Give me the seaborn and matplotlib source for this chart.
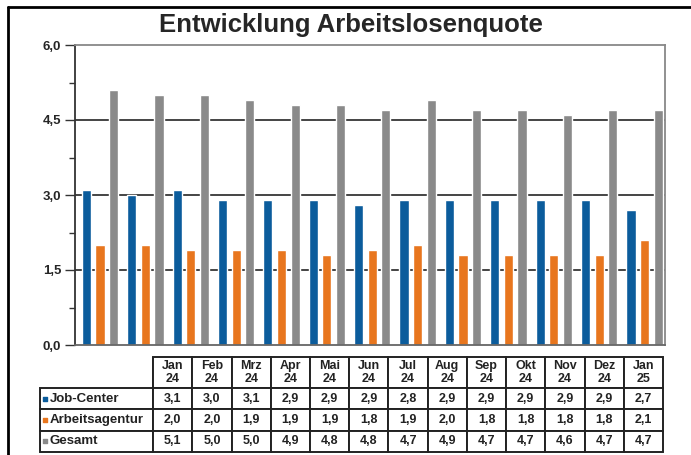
import numpy as np
import pandas as pd
import matplotlib
matplotlib.use("Agg")
import matplotlib.pyplot as plt
import seaborn as sns
from matplotlib.lines import Line2D

months = ["Jan\n24", "Feb\n24", "Mrz\n24", "Apr\n24", "Mai\n24", "Jun\n24", "Jul\n24",
          "Aug\n24", "Sep\n24", "Okt\n24", "Nov\n24", "Dez\n24", "Jan\n25"]
job_center = [3.1, 3.0, 3.1, 2.9, 2.9, 2.9, 2.8, 2.9, 2.9, 2.9, 2.9, 2.9, 2.7]
arbeitsagentur = [2.0, 2.0, 1.9, 1.9, 1.9, 1.8, 1.9, 2.0, 1.8, 1.8, 1.8, 1.8, 2.1]
gesamt = [5.1, 5.0, 5.0, 4.9, 4.8, 4.8, 4.7, 4.9, 4.7, 4.7, 4.6, 4.7, 4.7]
series = ["Job-Center", "Arbeitsagentur", "Gesamt"]
colors = ["#0b5c9c", "#e8761e", "#8a8a8a"]
yticks = [0, 1.5, 3.0, 4.5, 6.0]
ytick_labels = ["0,0", "1,5", "3,0", "4,5", "6,0"]

df = pd.DataFrame({
    "Monat": months * 3,
    "Reihe": np.repeat(series, len(months)),
    "Quote": job_center + arbeitsagentur + gesamt,
})

sns.set_style("white")
plt.rcParams["font.family"] = ["Liberation Sans", "DejaVu Sans"]

W, H = 691, 455
fig = plt.figure(figsize=(W / 100, H / 100), dpi=100)

# --- bar chart ---
ax = fig.add_axes([75 / W, 1 - 345 / H, 590 / W, 300 / H])
sns.barplot(data=df, x="Monat", y="Quote", hue="Reihe", palette=colors,
            width=0.9, gap=0.33, saturation=1, legend=False, ax=ax, zorder=2)
ax.set_xlim(-0.55, 12.45)
ax.set_ylim(0, 6)
ax.set_xticks([])
ax.set_xlabel("")
ax.set_ylabel("")
ax.set_yticks(yticks)
ax.set_yticklabels(ytick_labels, fontsize=9.5, fontweight="bold")
ax.set_yticks([0.75, 2.25, 3.75, 5.25], minor=True)
ax.tick_params(axis="y", which="major", left=True, length=7, width=1, color="#333", pad=3)
ax.tick_params(axis="y", which="minor", left=True, length=4, width=1, color="#333")
for y in [1.5, 3.0, 4.5]:
    ax.axhline(y, color="#444", lw=1.4, zorder=1)
ax.spines["left"].set_color("#333")
ax.spines["bottom"].set_color("#666")
ax.spines["top"].set_color("#888")
ax.spines["right"].set_color("#888")
for s in ax.spines.values():
    s.set_linewidth(1.3)

# --- title ---
fig.text(351 / W, 1 - 25 / H, "Entwicklung Arbeitslosenquote",
         ha="center", va="center", fontsize=18.5, fontweight="bold")

# --- data table: label column x=40..153 px, grid 153..663 px ---
ax_t = fig.add_axes([40 / W, 1 - 452 / H, 623 / W, 95 / H])
ax_t.axis("off")
header = [""] + months
body = [[name] + [f"{v:.1f}".replace(".", ",") for v in row]
        for name, row in zip(series, (job_center, arbeitsagentur, gesamt))]
tbl = ax_t.table(cellText=body, colLabels=header, cellLoc="center",
                 colLoc="center", bbox=[0, 0, 1, 1])
tbl.auto_set_font_size(False)
tbl.set_fontsize(9)
for (r, c), cell in tbl.get_celld().items():
    cell.set_width(113 if c == 0 else 39.2)
    cell.set_height(31 if r == 0 else 21.3)
    cell.set_edgecolor("#222")
    cell.set_linewidth(1.4)
    cell.get_text().set_fontweight("bold")
    cell.get_text().set_color("#222")
    if c == 0:
        cell._loc = "left"
        cell.PAD = 0.085
        cell.get_text().set_ha("left")
        cell.get_text().set_fontsize(9.5)
        if r == 0:
            cell.visible_edges = "R"

# legend squares in the row-label cells
for i, col in enumerate(colors):
    yc = 1 - (31 + 21.3 * i + 10.65) / 95
    ax_t.scatter([4.5 / 623], [yc], marker="s", s=12, color=col, zorder=5,
                 transform=ax_t.transAxes, clip_on=False)

# --- outer frame ---
fig.add_artist(Line2D([8 / W, 8 / W], [0, 1 - 7 / H], color="black", lw=2,
                      transform=fig.transFigure))
fig.add_artist(Line2D([8 / W, 1], [1 - 7 / H, 1 - 7 / H], color="black", lw=2,
                      transform=fig.transFigure))

fig.savefig("out.png", dpi=100)
